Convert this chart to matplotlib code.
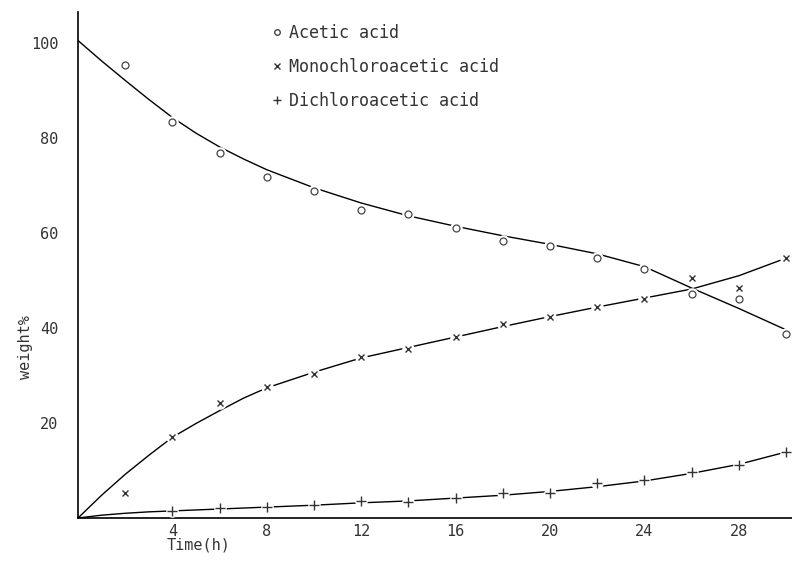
import matplotlib.pyplot as plt
from matplotlib.lines import Line2D

# measured points (time in h, weight %)
t_pts = [2, 4, 6, 8, 10, 12, 14, 16, 18, 20, 22, 24, 26, 28, 30]
acetic = [95.4, 83.4, 76.8, 71.8, 68.8, 64.8, 64.0, 61.1, 58.3, 57.3, 54.7, 52.4, 47.2, 46.1, 38.7]
mono = [5.3, 17.1, 24.2, 27.6, 30.3, 33.9, 35.6, 38.1, 40.8, 42.3, 44.4, 46.1, 50.5, 48.4, 54.7]
t_di = [4, 6, 8, 10, 12, 14, 16, 18, 20, 22, 24, 26, 28, 30]
dichloro = [1.5, 2.1, 2.3, 2.7, 3.6, 3.4, 4.2, 5.3, 5.3, 7.4, 8.0, 9.7, 11.2, 13.9]

# hand drawn curves
t_fit = [0, 1, 2, 3, 4, 5, 6, 7, 8, 10, 12, 14, 16, 18, 20, 22, 24, 26, 28, 30]
acetic_fit = [100.5, 96.2, 92.1, 88.1, 84.3, 81.0, 78.1, 75.6, 73.3, 69.5, 66.3, 63.6, 61.4, 59.4, 57.6, 55.6, 52.9, 48.4, 44.1, 39.6]
mono_fit = [0, 4.8, 9.2, 13.2, 17.0, 19.9, 22.6, 25.2, 27.4, 30.7, 33.7, 35.9, 38.1, 40.3, 42.4, 44.4, 46.3, 48.2, 51.0, 54.7]
dichloro_fit = [0, 0.6, 1.0, 1.3, 1.5, 1.7, 1.9, 2.1, 2.3, 2.7, 3.2, 3.6, 4.2, 4.8, 5.6, 6.6, 7.8, 9.4, 11.3, 13.9]

x_ticks = [4, 8, 12, 16, 20, 24, 28]
y_ticks = [20, 40, 60, 80, 100]

plt.rcParams['font.family'] = 'DejaVu Sans Mono'
txt = '#333333'

fig = plt.figure(figsize=(7.92, 5.61), dpi=100)
ax = fig.add_axes([0.0985, 0.0766, 0.9015, 0.902])

# curves
ax.plot(t_fit, acetic_fit, color='black', lw=1.0, zorder=2)
ax.plot(t_fit, mono_fit, color='black', lw=1.0, zorder=2)
ax.plot(t_fit, dichloro_fit, color='black', lw=1.0, zorder=2)

# white halos so the line breaks at each point
for tt, yy in [(t_pts, acetic), (t_pts, mono), (t_di, dichloro)]:
    ax.plot(tt, yy, ls='none', marker='o', ms=9, mfc='white', mec='none', zorder=3, clip_on=False)

ax.plot(t_pts, acetic, ls='none', marker='o', ms=5, mfc='white', mec='#444444', mew=0.9, zorder=4, clip_on=False)
ax.plot(t_pts, mono, ls='none', marker='x', ms=4.5, color='#333333', mew=1.0, zorder=4, clip_on=False)
ax.plot(t_di, dichloro, ls='none', marker='+', ms=6.5, color='#333333', mew=1.0, zorder=4, clip_on=False)

ax.set_xlim(0, 30.25)
ax.set_ylim(0, 106.5)
ax.set_xticks(x_ticks)
ax.set_yticks(y_ticks)
ax.tick_params(length=0, labelsize=11, labelcolor=txt)
ax.tick_params(axis='y', pad=14)
ax.tick_params(axis='x', pad=4)
for s in ['top', 'right']:
    ax.spines[s].set_visible(False)
for s in ['left', 'bottom']:
    ax.spines[s].set_linewidth(1.2)

fig.text(0.251, 0.0285, 'Time(h)', ha='center', va='center', fontsize=11, color=txt)
fig.text(0.0316, 0.3815, 'weight%', ha='center', va='center', rotation=90, fontsize=11, color=txt)

handles = [
    Line2D([], [], ls='none', marker='o', ms=4, mfc='white', mec='#444444'),
    Line2D([], [], ls='none', marker='x', ms=4, color='#333333'),
    Line2D([], [], ls='none', marker='+', ms=6, color='#333333'),
]
labels = ['Acetic acid', 'Monochloroacetic acid', 'Dichloroacetic acid']
ax.legend(handles, labels, loc='upper left', bbox_to_anchor=(0.272, 0.976), frameon=False,
          fontsize=12, labelcolor=txt, handlelength=0.6, handletextpad=0.4,
          labelspacing=0.95, borderpad=0, borderaxespad=0)

fig.savefig('out.png', dpi=100)
